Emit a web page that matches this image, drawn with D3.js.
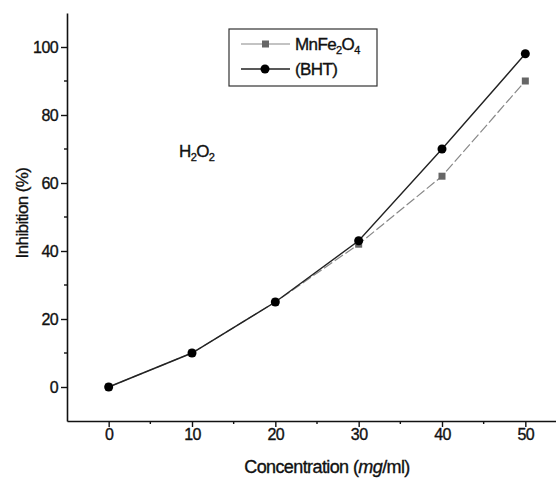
<!DOCTYPE html>
<html>
<head>
<meta charset="utf-8">
<script src="https://cdn.jsdelivr.net/npm/d3@7"></script>
<style>
  body { margin: 0; background: #fff; }
  text { font-family: "Liberation Sans", Arial, sans-serif; fill: #111; stroke: #111; stroke-width: 0.35px; letter-spacing: -0.6px; }
</style>
</head>
<body>
<svg id="chart" width="556" height="482"></svg>
<script>
// Concentration (mg/ml)
const concentrations = [0, 10, 20, 30, 40, 50];
// Inhibition (%)
const mnfeValues = [0, 10, 25, 42, 62, 90];
const bhtValues = [0, 10, 25, 43, 70, 98];
const xTicks = [0, 10, 20, 30, 40, 50];
const yTicks = [0, 20, 40, 60, 80, 100];

const svg = d3.select('#chart');

// plot frame
const x = d3.scaleLinear().domain([-5, 55]).range([67, 567]);
const y = d3.scaleLinear().domain([-10, 110]).range([421, 13]);

// axes: major ticks outside, minor ticks in between
const xAxis = d3.axisBottom(x).tickValues(xTicks).tickSize(6).tickSizeOuter(0).tickPadding(2);
const yAxis = d3.axisLeft(y).tickValues(yTicks).tickSize(6).tickSizeOuter(0).tickPadding(3);

const gx = svg.append('g').attr('transform', `translate(0,${y(-10)})`).call(xAxis);
const gy = svg.append('g').attr('transform', `translate(${x(-5)},0)`).call(yAxis);

[gx, gy].forEach(g => {
  g.select('.domain').attr('stroke', '#111').attr('stroke-width', 1.6);
  g.selectAll('.tick line').attr('stroke', '#111').attr('stroke-width', 1.4);
  g.selectAll('.tick text').attr('font-size', '16px').attr('fill', '#111');
});

// minor ticks
svg.append('g').selectAll('line')
  .data([5, 15, 25, 35, 45])
  .enter().append('line')
  .attr('x1', d => x(d)).attr('x2', d => x(d))
  .attr('y1', y(-10)).attr('y2', y(-10) + 3)
  .attr('stroke', '#111').attr('stroke-width', 1.4);

svg.append('g').selectAll('line')
  .data([10, 30, 50, 70, 90])
  .enter().append('line')
  .attr('x1', x(-5)).attr('x2', x(-5) - 3)
  .attr('y1', d => y(d)).attr('y2', d => y(d))
  .attr('stroke', '#111').attr('stroke-width', 1.4);

// axis titles
svg.append('text')
  .attr('x', 327).attr('y', 473)
  .attr('text-anchor', 'middle')
  .attr('font-size', '18px')
  .html('Concentration (<tspan font-style="italic">mg</tspan>/ml)');

svg.append('text')
  .attr('transform', 'translate(28,213) rotate(-90)')
  .attr('text-anchor', 'middle')
  .attr('font-size', '17px')
  .text('Inhibition (%)');

// series
const line = d3.line().x((d, i) => x(concentrations[i])).y(d => y(d));

svg.append('path')
  .datum(mnfeValues)
  .attr('d', line)
  .attr('fill', 'none')
  .attr('stroke', '#888')
  .attr('stroke-width', 1.2)
  .attr('stroke-dasharray', '10,3');

svg.append('path')
  .datum(bhtValues)
  .attr('d', line)
  .attr('fill', 'none')
  .attr('stroke', '#222')
  .attr('stroke-width', 1.4);

svg.append('g').selectAll('rect')
  .data(mnfeValues)
  .enter().append('rect')
  .attr('x', (d, i) => x(concentrations[i]) - 3.5)
  .attr('y', d => y(d) - 3.5)
  .attr('width', 7).attr('height', 7)
  .attr('fill', '#666');

svg.append('g').selectAll('circle')
  .data(bhtValues)
  .enter().append('circle')
  .attr('cx', (d, i) => x(concentrations[i]))
  .attr('cy', d => y(d))
  .attr('r', 4.5)
  .attr('fill', '#000');

// H2O2 annotation
svg.append('text')
  .attr('x', 179).attr('y', 157)
  .attr('font-size', '17px')
  .html('H<tspan font-size="11px" dy="4">2</tspan><tspan dy="-4">O</tspan><tspan font-size="11px" dy="4">2</tspan>');

// legend
const legend = svg.append('g');
legend.append('rect')
  .attr('x', 229).attr('y', 29).attr('width', 148).attr('height', 57)
  .attr('fill', '#fff').attr('stroke', '#333').attr('stroke-width', 1.2);

legend.append('line')
  .attr('x1', 241).attr('x2', 290).attr('y1', 44).attr('y2', 44)
  .attr('stroke', '#888').attr('stroke-width', 1.2);
legend.append('rect')
  .attr('x', 262).attr('y', 40.5).attr('width', 7).attr('height', 7).attr('fill', '#666');
legend.append('text')
  .attr('x', 295).attr('y', 50).attr('font-size', '17px')
  .html('MnFe<tspan font-size="11px" dy="4">2</tspan><tspan dy="-4">O</tspan><tspan font-size="11px" dy="4">4</tspan>');

legend.append('line')
  .attr('x1', 241).attr('x2', 290).attr('y1', 69).attr('y2', 69)
  .attr('stroke', '#222').attr('stroke-width', 1.4);
legend.append('circle')
  .attr('cx', 265).attr('cy', 69).attr('r', 4.5).attr('fill', '#000');
legend.append('text')
  .attr('x', 295).attr('y', 75).attr('font-size', '17px')
  .text('(BHT)');
</script>
</body>
</html>
